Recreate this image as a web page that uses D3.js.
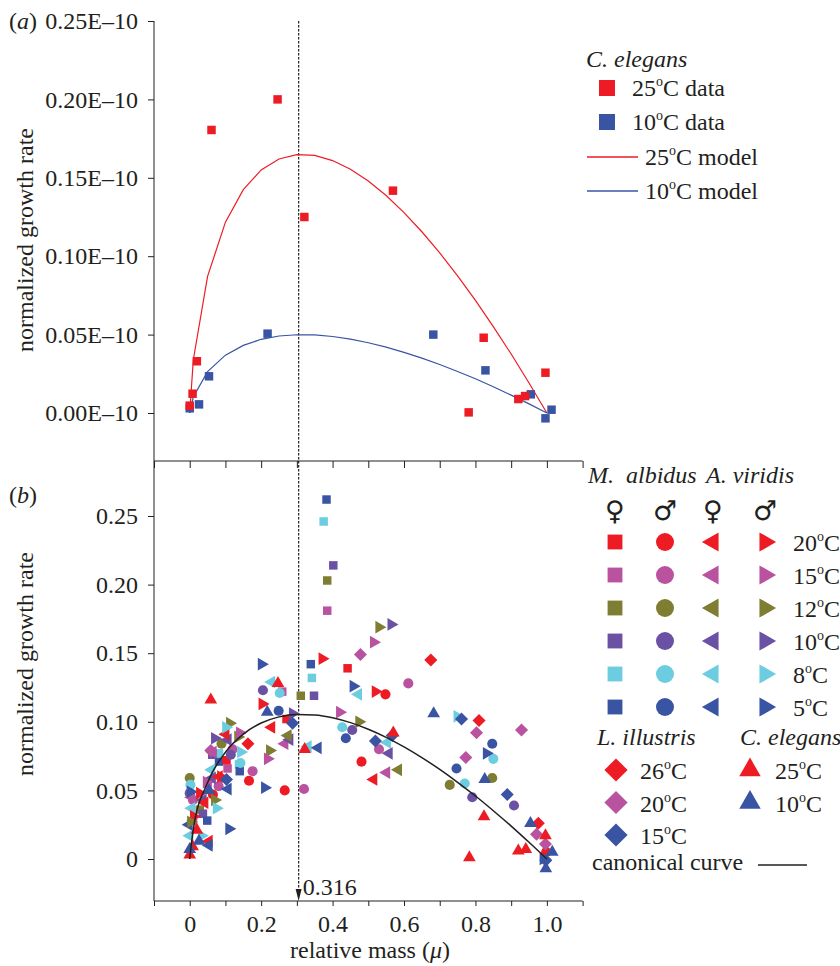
<!DOCTYPE html>
<html>
<head>
<meta charset="utf-8">
<script src="https://cdn.jsdelivr.net/npm/d3@7"></script>
<style>
  body { margin: 0; background: #fff; }
  text { font-family: "Liberation Serif", "Times New Roman", serif; fill: #231f20; }
</style>
</head>
<body>
<svg id="chart" width="840" height="966"></svg>
<script>
// ---- data ----
// model curves, read off at these relative masses
const muGrid = [0, 0.01, 0.05, 0.1, 0.15, 0.2, 0.25, 0.3, 0.35, 0.4, 0.45, 0.5, 0.55, 0.6, 0.65, 0.7, 0.75, 0.8, 0.85, 0.9, 0.95, 1.0];
const model25 = [0, 0.0338, 0.0871, 0.1217, 0.1424, 0.155, 0.162, 0.1648, 0.1643, 0.161, 0.1555, 0.148, 0.1387, 0.1278, 0.1156, 0.1021, 0.0875, 0.0718, 0.0551, 0.0376, 0.0191, 0];
const model10 = [0, 0.0102, 0.0264, 0.0369, 0.0431, 0.047, 0.0491, 0.0499, 0.0498, 0.0488, 0.0471, 0.0448, 0.042, 0.0387, 0.035, 0.0309, 0.0265, 0.0218, 0.0167, 0.0114, 0.0058, 0];
const canonical = [0, 0.0216, 0.0557, 0.0778, 0.091, 0.0991, 0.1036, 0.1054, 0.105, 0.103, 0.0994, 0.0946, 0.0887, 0.0817, 0.0739, 0.0653, 0.0559, 0.0459, 0.0352, 0.024, 0.0122, 0];

// panel (a): C. elegans data (value in units of 1E-10)
const elegans25a = [[0, 0.0047], [0.008, 0.0123], [0.02, 0.033], [0.061, 0.1805], [0.246, 0.2], [0.321, 0.125],
  [0.569, 0.1418], [0.781, 0.0004], [0.823, 0.048], [0.92, 0.0089], [0.939, 0.0108], [0.996, 0.0257]];
const elegans10a = [[0, 0.003], [0.026, 0.0055], [0.054, 0.0234], [0.218, 0.0506], [0.682, 0.05], [0.828, 0.0272],
  [0.955, 0.0119], [0.996, -0.0034], [1.013, 0.0021]];

// panel (b): [mu, growth rate, temperature]
const albidusFemale = [
  [0.383, 0.262, 5], [0.375, 0.246, 8], [0.402, 0.214, 10], [0.385, 0.203, 12], [0.385, 0.181, 15],
  [0.339, 0.142, 5], [0.442, 0.139, 20], [0.342, 0.132, 8], [0.259, 0.122, 15], [0.311, 0.119, 12], [0.348, 0.119, 10],
  [0.271, 0.102, 20], [0.138, 0.069, 8], [0.14, 0.064, 5], [0.106, 0.066, 15], [0.082, 0.071, 5], [0.082, 0.077, 8],
  [0.103, 0.072, 20], [0.063, 0.076, 10], [0.028, 0.036, 12], [0.037, 0.033, 10], [0.049, 0.028, 5], [0.05, 0.055, 15]];
const albidusMale = [
  [0.205, 0.123, 10], [0.252, 0.121, 8], [0.548, 0.12, 20], [0.249, 0.108, 5], [0.427, 0.096, 8], [0.455, 0.094, 10],
  [0.437, 0.088, 5], [0.53, 0.08, 15], [0.481, 0.071, 20], [0.612, 0.128, 15], [0.176, 0.064, 15], [0.166, 0.057, 20],
  [0.142, 0.07, 8], [0.266, 0.05, 20], [0.32, 0.051, 15], [0.081, 0.053, 15], [0.089, 0.084, 12], [0.12, 0.08, 15],
  [0.115, 0.076, 10], [0, 0.059, 12], [0.002, 0.054, 8], [0, 0.048, 10], [0.009, 0.043, 15], [0.065, 0.047, 20],
  [0.847, 0.084, 5], [0.85, 0.073, 8], [0.747, 0.066, 5], [0.847, 0.059, 12], [0.77, 0.055, 8], [0.728, 0.054, 12],
  [0.791, 0.045, 10], [0.908, 0.039, 10], [0.998, 0.005, 20]];
const viridisFemale = [
  [0.229, 0.129, 8], [0.229, 0.096, 20], [0.266, 0.084, 15], [0.28, 0.087, 10], [0.275, 0.09, 12], [0.331, 0.082, 8],
  [0.359, 0.081, 5], [0.472, 0.12, 8], [0.553, 0.085, 8], [0.558, 0.077, 10], [0.515, 0.058, 20], [0.551, 0.063, 15],
  [0.584, 0.065, 12], [0.107, 0.087, 10], [0.061, 0.065, 8], [0.063, 0.059, 10], [0.065, 0.078, 15], [0.005, 0.045, 15],
  [0.037, 0.043, 10], [0.042, 0.041, 20], [0.005, 0.037, 8], [-0.002, 0.025, 5], [0, 0.017, 8], [0.054, 0.013, 20],
  [0.054, 0.01, 5], [0.107, 0.051, 5], [0.011, 0.028, 15], [0.101, 0.091, 20], [0.082, 0.06, 20]];
const viridisMale = [
  [0.201, 0.142, 5], [0.371, 0.146, 20], [0.515, 0.158, 15], [0.53, 0.169, 12], [0.564, 0.171, 10], [0.458, 0.126, 5],
  [0.52, 0.122, 20], [0.203, 0.113, 20], [0.288, 0.106, 10], [0.42, 0.107, 15], [0.474, 0.1, 12], [0.224, 0.079, 12],
  [0.218, 0.073, 15], [0.143, 0.078, 8], [0.135, 0.089, 12], [0.14, 0.092, 15], [0.112, 0.099, 12], [0.101, 0.096, 8],
  [0.07, 0.088, 10], [0.21, 0.052, 5], [0.087, 0.06, 20], [0.047, 0.056, 15], [0.002, 0.049, 5], [0.028, 0.048, 20],
  [0.07, 0.043, 12], [0.075, 0.037, 8], [0.011, 0.031, 20], [0.003, 0.027, 12], [0.11, 0.022, 5], [0.033, 0.017, 8],
  [0.749, 0.104, 8], [0.831, 0.077, 5], [0.99, 0, 5]];
const illustris = [
  [0.675, 0.145, 26], [0.478, 0.149, 20], [0.288, 0.099, 15], [0.52, 0.086, 15], [0.163, 0.084, 26], [0.103, 0.058, 15],
  [0.059, 0.079, 20], [0.761, 0.102, 15], [0.81, 0.101, 26], [0.803, 0.092, 20], [0.929, 0.094, 20], [0.773, 0.074, 20],
  [0.889, 0.047, 15], [0.976, 0.026, 26], [0.971, 0.018, 20], [0.996, 0.011, 20], [0.997, -0.001, 15], [0.567, 0.09, 15]];
const elegansB = [
  [0.059, 0.116, 25], [0.247, 0.128, 25], [0.322, 0.08, 25], [0.57, 0.092, 25], [0.824, 0.031, 25], [0.996, 0.017, 25],
  [0.92, 0.006, 25], [0.941, 0.007, 25], [0.783, 0.001, 25], [0, 0.003, 25], [0.008, 0.009, 25], [0.02, 0.021, 25],
  [0.217, 0.107, 10], [0.683, 0.106, 10], [0.826, 0.058, 10], [0.954, 0.026, 10], [1.015, 0.005, 10], [0.997, -0.007, 10],
  [0.026, 0.013, 10], [0, 0.007, 10], [0.054, 0.05, 10]];

const tempsMA = [20, 15, 12, 10, 8, 5];
const tempsLI = [26, 20, 15];
const tempsCE = [25, 10];
const yTicks = [0, 0.05, 0.1, 0.15, 0.2, 0.25];
const xTicks = [-0.1, 0, 0.1, 0.2, 0.3, 0.4, 0.5, 0.6, 0.7, 0.8, 0.9, 1.0, 1.1];
const xTickLabels = { "0": "0", "0.2": "0.2", "0.4": "0.4", "0.6": "0.6", "0.8": "0.8", "1": "1.0" };
const peakMu = 0.305; // where the dashed line is drawn
const peakLabel = "0.316";

// ---- colours ----
const red = "#ed1c24", magenta = "#b9529f", olive = "#7f7d31", purple = "#6a51a3", cyan = "#6dcde0", blue = "#3a54a4";
const ink = "#231f20";
const colorMA = d3.scaleOrdinal().domain(tempsMA).range([red, magenta, olive, purple, cyan, blue]);
const colorLI = d3.scaleOrdinal().domain(tempsLI).range([red, magenta, blue]);
const colorCE = d3.scaleOrdinal().domain(tempsCE).range([red, blue]);

// ---- scales ----
const x = d3.scaleLinear().domain([-0.1, 1.1]).range([154, 582.6]);
const yA = d3.scaleLinear().domain([0, 0.25]).range([413, 21]);
const yB = d3.scaleLinear().domain([0, 0.25]).range([859, 516]);

const svg = d3.select("#chart");

// symbol shapes
const shapes = {
  square: { type: d3.symbolSquare, rot: 0 },
  circle: { type: d3.symbolCircle, rot: 0 },
  left: { type: d3.symbolTriangle, rot: -90 },
  right: { type: d3.symbolTriangle, rot: 90 },
  diamond: { type: d3.symbolSquare, rot: 45 },
  up: { type: d3.symbolTriangle, rot: 0 },
};
const plotSize = { square: 72, circle: 80, left: 70, right: 70, diamond: 85, up: 70 };
const legendSize = { square: 220, circle: 255, left: 160, right: 160, diamond: 270, up: 200 };

function drawSymbol(g, shape, size, cx, cy, fill) {
  const s = shapes[shape];
  g.append("path")
    .attr("d", d3.symbol().type(s.type).size(size)())
    .attr("transform", `translate(${cx},${cy}) rotate(${s.rot})`)
    .attr("fill", fill);
}

// text with a superscript "o" for degrees
function tempText(g, tx, ty, temp, rest) {
  const t = g.append("text").attr("x", tx).attr("y", ty).attr("font-size", 24);
  t.append("tspan").text(temp);
  t.append("tspan").attr("font-size", 14).attr("dy", -10).text("o");
  t.append("tspan").attr("dy", 10).text("C" + rest);
  return t;
}

function styleAxis(g) {
  g.attr("font-family", null).attr("font-size", null);
  g.select(".domain").remove();
  g.selectAll(".tick line").attr("stroke", ink);
  g.selectAll(".tick text").attr("font-size", 24).attr("fill", ink);
}

// ---- axes ----
svg.append("line").attr("x1", 154).attr("x2", 154).attr("y1", 21).attr("y2", 901).attr("stroke", ink);
svg.append("line").attr("x1", 154).attr("x2", 582.6).attr("y1", 461).attr("y2", 461).attr("stroke", ink);
svg.append("line").attr("x1", 154).attr("x2", 582.6).attr("y1", 901).attr("y2", 901).attr("stroke", ink);

svg.append("g").attr("transform", "translate(154,0)")
  .call(d3.axisLeft(yA).tickValues(yTicks).tickSize(6).tickPadding(10)
    .tickFormat((d) => d.toFixed(2) + "E\u201310"))
  .call(styleAxis);

svg.append("g").attr("transform", "translate(154,0)")
  .call(d3.axisLeft(yB).tickValues(yTicks).tickSize(6).tickPadding(10)
    .tickFormat((d) => (d === 0 ? "0" : d.toFixed(2))))
  .call(styleAxis);

svg.append("g").attr("transform", "translate(0,461)")
  .call(d3.axisBottom(x).tickValues(xTicks).tickSize(7).tickFormat(""))
  .call(styleAxis);

svg.append("g").attr("transform", "translate(0,901)")
  .call(d3.axisBottom(x).tickValues(xTicks).tickSize(5).tickPadding(9)
    .tickFormat((d) => xTickLabels[String(+d.toFixed(1))] || ""))
  .call(styleAxis);

// axis titles
svg.append("text").attr("transform", "translate(33,240) rotate(-90)")
  .attr("text-anchor", "middle").attr("font-size", 24).text("normalized growth rate");
svg.append("text").attr("transform", "translate(33,664) rotate(-90)")
  .attr("text-anchor", "middle").attr("font-size", 24).text("normalized growth rate");
const xTitle = svg.append("text").attr("x", 370).attr("y", 958).attr("text-anchor", "middle").attr("font-size", 24);
xTitle.append("tspan").text("relative mass (");
xTitle.append("tspan").attr("font-style", "italic").text("\u03bc");
xTitle.append("tspan").text(")");

// panel letters
[["a", 29], ["b", 503]].forEach(([letter, yy]) => {
  const t = svg.append("text").attr("x", 9).attr("y", yy).attr("font-size", 24);
  t.append("tspan").text("(");
  t.append("tspan").attr("font-style", "italic").text(letter);
  t.append("tspan").text(")");
});

// ---- dashed peak line ----
const px = x(peakMu);
svg.append("line").attr("x1", px).attr("x2", px).attr("y1", 21).attr("y2", 890)
  .attr("stroke", ink).attr("stroke-width", 1.2).attr("stroke-dasharray", "2.5,1.5");
svg.append("path").attr("d", `M${px - 3},889 L${px + 3},889 L${px},901 Z`).attr("fill", ink);
svg.append("text").attr("x", px + 4).attr("y", 895).attr("font-size", 24).text(peakLabel);

// ---- panel (a) ----
const lineA = d3.line().x((d) => x(d[0])).y((d) => yA(d[1]));
svg.append("path").datum(d3.zip(muGrid, model25)).attr("d", lineA)
  .attr("fill", "none").attr("stroke", red).attr("stroke-width", 1.2);
svg.append("path").datum(d3.zip(muGrid, model10)).attr("d", lineA)
  .attr("fill", "none").attr("stroke", blue).attr("stroke-width", 1.2);

const gA = svg.append("g");
elegans10a.forEach((d) => drawSymbol(gA, "square", 72, x(d[0]), yA(d[1]), blue));
elegans25a.forEach((d) => drawSymbol(gA, "square", 72, x(d[0]), yA(d[1]), red));

// ---- panel (b) ----
const gB = svg.append("g");
const series = [
  [albidusFemale, "square", colorMA],
  [albidusMale, "circle", colorMA],
  [viridisFemale, "left", colorMA],
  [viridisMale, "right", colorMA],
  [illustris, "diamond", colorLI],
  [elegansB, "up", colorCE],
];
series.forEach(([data, shape, color]) => {
  data.forEach((d) => drawSymbol(gB, shape, plotSize[shape], x(d[0]), yB(d[1]), color(d[2])));
});

svg.append("path").datum(d3.zip(muGrid, canonical))
  .attr("d", d3.line().curve(d3.curveMonotoneX).x((d) => x(d[0])).y((d) => yB(d[1])))
  .attr("fill", "none").attr("stroke", ink).attr("stroke-width", 1.5);

// ---- legend (a) ----
const legA = svg.append("g");
legA.append("text").attr("x", 586).attr("y", 67).attr("font-size", 24).attr("font-style", "italic").text("C. elegans");
drawSymbol(legA, "square", 256, 607, 88, red);
tempText(legA, 632, 96, 25, " data");
drawSymbol(legA, "square", 256, 607, 122, blue);
tempText(legA, 632, 130, 10, " data");
legA.append("line").attr("x1", 587).attr("x2", 638).attr("y1", 157).attr("y2", 157).attr("stroke", red).attr("stroke-width", 1.3);
tempText(legA, 645, 165, 25, " model");
legA.append("line").attr("x1", 587).attr("x2", 638).attr("y1", 191).attr("y2", 191).attr("stroke", blue).attr("stroke-width", 1.3);
tempText(legA, 645, 199, 10, " model");

// ---- legend (b) ----
const legB = svg.append("g");
const hdr = legB.append("text").attr("y", 483).attr("font-size", 24).attr("font-style", "italic");
hdr.append("tspan").attr("x", 588).text("M.");
hdr.append("tspan").attr("x", 626).text("albidus");
hdr.append("tspan").attr("x", 706).text("A. viridis");

const cols = [615, 665, 713, 765];
const colShapes = ["square", "circle", "left", "right"];
const sexes = ["\u2640", "\u2642", "\u2640", "\u2642"];
cols.forEach((cx, i) => {
  legB.append("text").attr("x", cx).attr("y", 520).attr("text-anchor", "middle")
    .style("font-family", "'DejaVu Sans'").style("font-size", "27px").text(sexes[i]);
});
tempsMA.forEach((t, r) => {
  const cy = 542 + r * 33;
  cols.forEach((cx, i) => drawSymbol(legB, colShapes[i], legendSize[colShapes[i]], cx, cy, colorMA(t)));
  tempText(legB, 793, cy + 9, t, "");
});

legB.append("text").attr("x", 597).attr("y", 745).attr("font-size", 24).attr("font-style", "italic").text("L. illustris");
legB.append("text").attr("x", 740).attr("y", 745).attr("font-size", 24).attr("font-style", "italic").text("C. elegans");
tempsLI.forEach((t, r) => {
  const cy = 770 + r * 32.5;
  drawSymbol(legB, "diamond", legendSize.diamond, 616, cy, colorLI(t));
  tempText(legB, 640, cy + 9, t, "");
});
tempsCE.forEach((t, r) => {
  const cy = 770 + r * 32.5;
  drawSymbol(legB, "up", legendSize.up, 750, cy, colorCE(t));
  tempText(legB, 775, cy + 9, t, "");
});
legB.append("text").attr("x", 592).attr("y", 870).attr("font-size", 24).text("canonical curve");
legB.append("line").attr("x1", 758).attr("x2", 807).attr("y1", 865).attr("y2", 865).attr("stroke", ink).attr("stroke-width", 1.3);
</script>
</body>
</html>
